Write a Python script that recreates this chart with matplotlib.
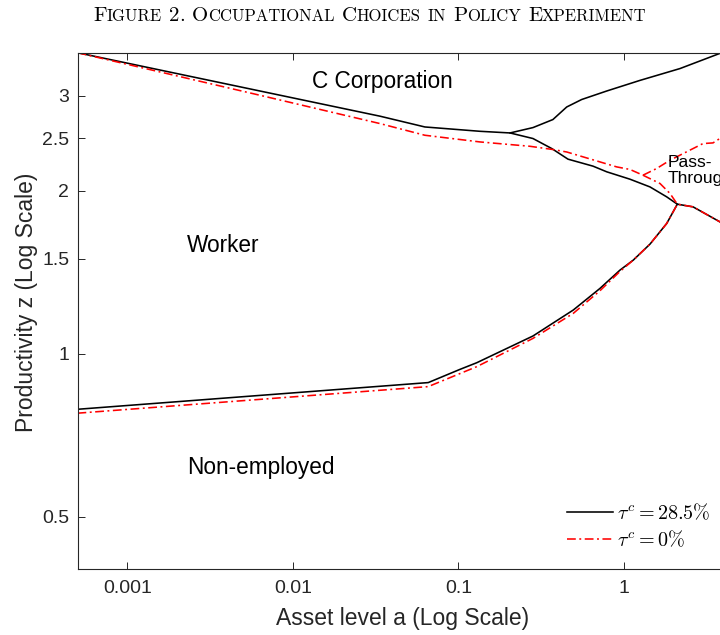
import numpy as np
import matplotlib
matplotlib.use("Agg")
import matplotlib.pyplot as plt
from matplotlib.lines import Line2D
from matplotlib.offsetbox import TextArea, HPacker, AnchoredOffsetbox

plt.rcParams['font.family'] = ['Liberation Sans', 'DejaVu Sans']
plt.rcParams['mathtext.fontset'] = 'cm'

# occupational boundaries, tau_c = 28.5% (baseline)
base_top_a = [5e-4, 0.00632, 0.0336, 0.0627, 0.135, 0.205, 0.282, 0.372, 0.451, 0.555, 0.787, 1.249, 2.178, 3.80, 5.0]
base_top_z = [3.60, 3.059, 2.748, 2.625, 2.577, 2.559, 2.618, 2.709, 2.858, 2.950, 3.059, 3.20, 3.365, 3.59, 3.75]
base_mid_a = [0.205, 0.282, 0.366, 0.459, 0.65, 0.787, 1.087, 1.436, 1.811, 2.1, 2.611, 3.80, 5.0]
base_mid_z = [2.559, 2.499, 2.395, 2.289, 2.222, 2.169, 2.102, 2.034, 1.950, 1.89, 1.869, 1.753, 1.68]
base_low_a = [5e-4, 0.0657, 0.102, 0.129, 0.282, 0.494, 0.716, 0.946, 1.138, 1.436, 1.811, 2.1]
base_low_z = [0.790, 0.885, 0.936, 0.963, 1.079, 1.205, 1.321, 1.428, 1.49, 1.595, 1.741, 1.89]

# occupational boundaries, tau_c = 0%
zero_top_a = [5e-4, 0.00632, 0.0336, 0.0627, 0.135, 0.27, 0.372, 0.451, 0.903, 1.087, 1.302]
zero_top_z = [3.60, 3.004, 2.663, 2.534, 2.463, 2.418, 2.385, 2.36, 2.215, 2.191, 2.138]
zero_pt_a = [1.302, 1.576, 1.897, 3.0, 3.45, 3.80, 5.0]
zero_pt_z = [2.138, 2.200, 2.279, 2.446, 2.453, 2.50, 2.6]
zero_mid_a = [1.302, 1.65, 1.897, 2.1, 2.611, 3.80, 5.0]
zero_mid_z = [2.138, 2.064, 1.978, 1.89, 1.869, 1.753, 1.68]
zero_low_a = [5e-4, 0.0657, 0.129, 0.282, 0.494, 0.716, 0.946, 1.138, 1.436, 1.811, 2.1]
zero_low_z = [0.777, 0.870, 0.947, 1.068, 1.188, 1.308, 1.42, 1.49, 1.595, 1.741, 1.89]

xticks = [0.001, 0.01, 0.1, 1]
xticklabels = ['0.001', '0.01', '0.1', '1']
yticks = [0.5, 1, 1.5, 2, 2.5, 3]
yticklabels = ['0.5', '1', '1.5', '2', '2.5', '3']

W, H = 720, 635
fig = plt.figure(figsize=(W / 100, H / 100), dpi=100)
# axes run past the right edge of the figure
ax = fig.add_axes([77.5 / W, (H - 569.3) / H, 662.2 / W, 516.6 / H])
ax.set_xscale('log')
ax.set_yscale('log')
ax.set_xlim(5e-4, 5)
ax.set_ylim(0.4, 3.6)

gray = '#262626'
dashdot = (0, (5.5, 2.2, 1.2, 2.2))
lw = 1.15

for a, z in [(base_top_a, base_top_z), (base_mid_a, base_mid_z), (base_low_a, base_low_z)]:
    ax.plot(a, z, color='black', lw=lw)
for a, z in [(zero_top_a, zero_top_z), (zero_pt_a, zero_pt_z),
             (zero_mid_a, zero_mid_z), (zero_low_a, zero_low_z)]:
    ax.plot(a, z, color='red', lw=lw, linestyle=dashdot)

ax.set_xticks(xticks)
ax.set_xticklabels(xticklabels)
ax.set_yticks(yticks)
ax.set_yticklabels(yticklabels)
ax.minorticks_off()
ax.tick_params(direction='in', top=True, right=True, length=5, width=0.7,
               colors=gray, labelsize=14)
ax.tick_params(axis='x', pad=8)
ax.tick_params(axis='y', pad=6)
for s in ax.spines.values():
    s.set_color(gray)
    s.set_linewidth(0.8)

ax.set_xlabel('Asset level a (Log Scale)', fontsize=16.5, color=gray)
ax.xaxis.set_label_coords(0.4916, -0.073)
ax.xaxis.label.set_va('top')
ax.set_ylabel('Productivity z (Log Scale)', fontsize=16.5, color=gray)
ax.yaxis.set_label_coords(-0.0597, 0.517)

# region labels
ax.text(0.0345, 3.19, 'C Corporation', fontsize=16.3, ha='center', va='center')
ax.text(0.0023, 1.588, 'Worker', fontsize=16.3, ha='left', va='center')
ax.text(0.0023, 0.618, 'Non-employed', fontsize=16.3, ha='left', va='center')
ax.text(1.845, 2.184, 'Pass-\nThrough', fontsize=12.5, ha='left', va='center',
        linespacing=1.05)

handles = [Line2D([], [], color='black', lw=lw),
           Line2D([], [], color='red', lw=lw, linestyle=dashdot)]
ax.legend(handles, [r'$\tau^c = 28.5\%$', r'$\tau^c = 0\%$'],
          loc='center left', bbox_to_anchor=(567 / W, 1 - 526.5 / H),
          bbox_transform=fig.transFigure, frameon=False, borderpad=0,
          borderaxespad=0, handlelength=2.3, handletextpad=0.2,
          labelspacing=0.3, fontsize=14.5)

# small-caps caption
title = 'Figure 2. Occupational Choices in Policy Experiment'
big, small = 15, 12
words = []
for w in title.split():
    parts = []
    if w.islower():
        parts.append(TextArea(w.upper(), textprops=dict(family='cmr10', size=small)))
    else:
        parts.append(TextArea(w[0], textprops=dict(family='cmr10', size=big)))
        if len(w) > 1:
            rest = w[1:]
            sz = big if not rest.isalpha() else small
            parts.append(TextArea(rest.upper(), textprops=dict(family='cmr10', size=sz)))
    words.append(HPacker(children=parts, align='baseline', pad=0, sep=0))
cap = HPacker(children=words, align='baseline', pad=0, sep=5)
box = AnchoredOffsetbox(loc='center', child=cap, pad=0, borderpad=0, frameon=False,
                        bbox_to_anchor=(370 / W, 1 - 16 / H),
                        bbox_transform=fig.transFigure)
fig.add_artist(box)

fig.savefig('out.png', dpi=100)
